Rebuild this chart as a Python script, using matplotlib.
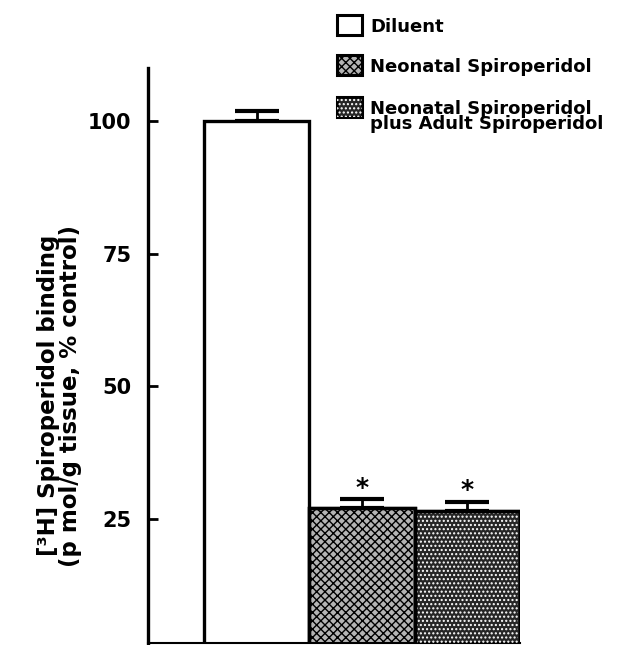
import matplotlib.pyplot as plt
from matplotlib.patches import Rectangle

groups = ["Diluent", "Neonatal Spiroperidol", "Neonatal Spiroperidol\nplus Adult Spiroperidol"]
means = [100.0, 27.1, 26.4]
sems = [1.9, 1.6, 1.8]
signif = [False, True, True]
yticks = [25, 50, 75, 100]

faces = ["white", "#b4b4b4", "#262626"]
hatch_cols = [None, "black", "white"]
hatches = [None, "xxxx", "...."]

plt.rcParams["font.family"] = "DejaVu Sans"
plt.rcParams["font.weight"] = "bold"
plt.rcParams["hatch.linewidth"] = 1.0

fig = plt.figure(figsize=(6.32, 6.45), dpi=100)
W, H = 632, 645
# axes: left spine at x=148px, right at 520px, y=1.6 at 643px, y=110 at 68px
ax = fig.add_axes([148 / W, (H - 643) / H, (520 - 148) / W, (643 - 68) / H])

x = [0, 1, 2]
for i in range(3):
    ax.bar(x[i], means[i], width=1.0, color=faces[i], edgecolor="black",
           linewidth=2.4, zorder=2)
    if hatch_cols[i]:
        ax.bar(x[i], means[i], width=0.97, color="none", edgecolor=hatch_cols[i],
               hatch=hatches[i], linewidth=0, zorder=3)
        ax.bar(x[i], means[i], width=1.0, color="none", edgecolor="black",
               linewidth=2.4, zorder=4)

ax.errorbar(x, means, yerr=[[0, 0, 0], sems], fmt="none",
            ecolor="black", elinewidth=2, capsize=16, capthick=3, zorder=1)

for i in range(3):
    if signif[i]:
        ax.text(x[i], means[i] + sems[i] + 2.2, "*", ha="center", va="center",
                fontsize=18, fontweight="bold")

ax.set_xlim(-1.03, 2.5)
ax.set_ylim(1.6, 110)
ax.set_yticks(yticks)
ax.set_yticklabels([str(t) for t in yticks], fontsize=15, fontweight="bold")
ax.tick_params(axis="y", direction="in", length=7, width=2, pad=12)
ax.set_xticks([])
for s in ["top", "right"]:
    ax.spines[s].set_visible(False)
ax.spines["left"].set_linewidth(2.4)
ax.spines["bottom"].set_linewidth(1.5)

ax.set_ylabel("[³H] Spiroperidol binding\n(p mol/g tissue, % control)",
              fontsize=16.5, fontweight="bold", linespacing=0.95)
ax.yaxis.set_label_coords(-0.178, 0.43)

# legend drawn at top right
box_y = [15, 55, 97]
for i, lab in enumerate(groups):
    y0 = box_y[i]
    fig.add_artist(Rectangle((337 / W, (H - y0 - 20) / H), 25 / W, 20 / H,
                             transform=fig.transFigure, facecolor=faces[i],
                             edgecolor="black", linewidth=2.2))
    if hatch_cols[i]:
        fig.add_artist(Rectangle((337 / W, (H - y0 - 20) / H), 25 / W, 20 / H,
                                 transform=fig.transFigure, facecolor="none",
                                 edgecolor=hatch_cols[i], linewidth=0,
                                 hatch=hatches[i]))
    fig.text(370 / W, (H - y0 - 3) / H, lab, ha="left", va="top", fontsize=13,
             fontweight="bold", linespacing=0.8)

fig.savefig("out.png", dpi=100)
